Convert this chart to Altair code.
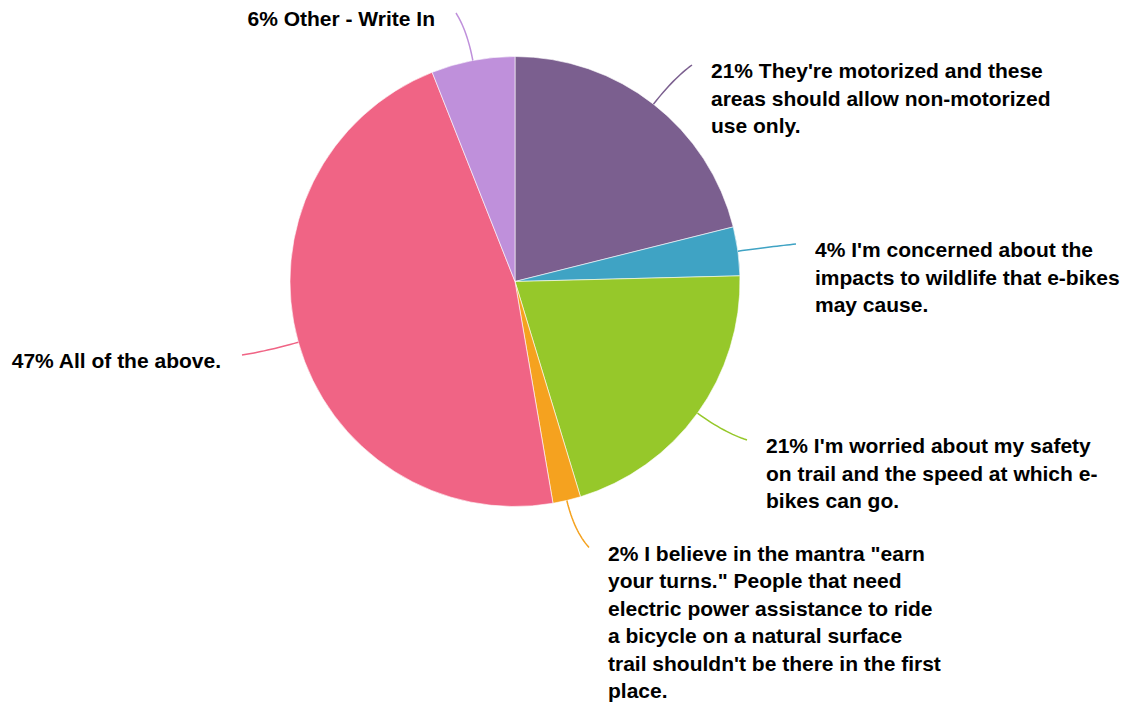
import math
import altair as alt
import pandas as pd

# ---- data ----
categories = [
    "They're motorized and these areas should allow non-motorized use only.",
    "I'm concerned about the impacts to wildlife that e-bikes may cause.",
    "I'm worried about my safety on trail and the speed at which e-bikes can go.",
    "I believe in the mantra \"earn your turns.\" People that need electric power assistance to ride a bicycle on a natural surface trail shouldn't be there in the first place.",
    "All of the above.",
    "Other - Write In",
]
values = [21.1, 3.5, 20.7, 2.0, 46.7, 6.0]
colors = ["#7B5F8F", "#3FA3C4", "#96C82A", "#F5A21F", "#F06485", "#BF90DB"]
label_lines = [
    ["They're motorized and these", "areas should allow non-motorized", "use only."],
    ["I'm concerned about the", "impacts to wildlife that e-bikes", "may cause."],
    ["I'm worried about my safety", "on trail and the speed at which e-", "bikes can go."],
    ["I believe in the mantra \"earn", "your turns.\" People that need",
     "electric power assistance to ride", "a bicycle on a natural surface",
     "trail shouldn't be there in the first", "place."],
    ["All of the above."],
    ["Other - Write In"],
]

# ---- layout ----
W, H = 1125, 704
CX, CY, R = 515, 281.5, 225
FONT = "Liberation Sans"
FS = 21
LH = 27.5
# label anchor: (x, first baseline y, align)
label_pos = [
    (711, 78, "left"),
    (815, 257, "left"),
    (766, 453, "left"),
    (608, 560.5, "left"),
    (221, 368, "right"),
    (435, 26, "right"),
]

total = sum(values)
pcts = [round(v / total * 100) for v in values]

df = pd.DataFrame({"category": categories, "value": values, "idx": list(range(len(values)))})

# label table
trows = []
for i, (lines, p) in enumerate(zip(label_lines, pcts)):
    lines = list(lines)
    lines[0] = f"{p}% " + lines[0]
    x, y, al = label_pos[i]
    trows.append({"category": categories[i], "text": "\n".join(lines), "tx": x, "ty": y, "align": al})
tdf = pd.DataFrame(trows)

# leader lines derived from slice angles
lrows = []
cum = 0.0
for i, v in enumerate(values):
    a0 = cum / total * 2 * math.pi
    cum += v
    a1 = cum / total * 2 * math.pi
    mid = (a0 + a1) / 2
    ux, uy = math.sin(mid), -math.cos(mid)
    sx, sy = CX + R * ux, CY + R * uy
    x, y, al = label_pos[i]
    ex = x - 19 if al == "left" else x + 21
    ey = y - 13
    d = math.hypot(ex - sx, ey - sy)
    k = 0.6 * d
    cx_, cy_ = sx + k * ux, sy + k * uy
    n = 16
    for j in range(n + 1):
        t = j / n
        px = (1 - t) ** 2 * sx + 2 * (1 - t) * t * cx_ + t ** 2 * ex
        py = (1 - t) ** 2 * sy + 2 * (1 - t) * t * cy_ + t ** 2 * ey
        lrows.append({"category": categories[i], "pt": j, "lx": px, "ly": py})
ldf = pd.DataFrame(lrows)

color_scale = alt.Scale(domain=categories, range=colors)

pie = alt.Chart(df).mark_arc(outerRadius=R, stroke="white", strokeWidth=0.6).encode(
    theta=alt.Theta("value:Q", stack=True),
    color=alt.Color("category:N", scale=color_scale, legend=None),
    order=alt.Order("idx:Q"),
    x=alt.value(CX),
    y=alt.value(CY),
)

leaders = alt.Chart(ldf).mark_line(strokeWidth=1.5).encode(
    x=alt.X("lx:Q", scale=None),
    y=alt.Y("ly:Q", scale=None),
    detail="category:N",
    order="pt:Q",
    color=alt.Color("category:N", scale=color_scale, legend=None),
)

def text_layer(al):
    return alt.Chart(tdf).transform_filter(alt.datum.align == al).mark_text(
        align=al, baseline="alphabetic", font=FONT, fontSize=FS, fontWeight="bold",
        lineBreak="\n", lineHeight=LH, color="#000000",
    ).encode(
        x=alt.X("tx:Q", scale=None),
        y=alt.Y("ty:Q", scale=None),
        text="text:N",
    )

chart = alt.layer(pie, leaders, text_layer("left"), text_layer("right")).properties(
    width=W, height=H, autosize="none", padding=0, background="white",
).configure_view(stroke=None)

chart.save("out.html", embed_options={"renderer": "svg", "actions": False})
